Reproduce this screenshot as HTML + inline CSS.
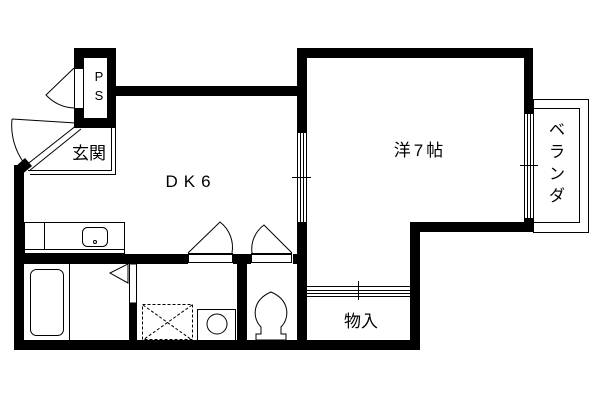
<!DOCTYPE html>
<html><head><meta charset="utf-8"><style>
html,body{margin:0;padding:0;background:#fff;}
svg{display:block;}
text{font-family:"Liberation Sans","Noto Sans CJK JP",sans-serif;fill:#000;}
</style></head><body>
<svg width="600" height="400" viewBox="0 0 600 400" xmlns="http://www.w3.org/2000/svg">
<rect width="600" height="400" fill="#fff"/>
<g fill="none" stroke="#000" stroke-width="1">
<!-- veranda -->
<rect x="533.5" y="99.5" width="55" height="133"/>
<rect x="533.5" y="108.5" width="46" height="114"/>
<!-- genkan lines -->
<polyline points="111.5,126 111.5,170.5 28,170.5"/>
<polyline points="115.5,126 115.5,174.5 30,174.5"/>
<!-- entry door -->
<line x1="25" y1="166" x2="77" y2="125"/>
<line x1="29" y1="171" x2="81" y2="129"/>
<line x1="12" y1="119" x2="76" y2="123"/>
<path d="M12,119 A64,64 0 0 0 24,163"/>
<!-- PS door -->
<path d="M74,68 L46,95 A40,40 0 0 0 74,108"/>
<!-- kitchen counter -->
<rect x="24.5" y="222.5" width="100" height="31"/>
<line x1="24" y1="249.5" x2="124" y2="249.5"/>
<line x1="44.5" y1="222" x2="44.5" y2="249"/>
<rect x="82.5" y="227.5" width="25" height="19" rx="5"/>
<circle cx="95" cy="242" r="1.5"/>
<!-- bathtub -->
<rect x="30.5" y="269.5" width="33" height="66" rx="6"/>
<line x1="69.5" y1="264" x2="69.5" y2="340"/>
<!-- wash door -->
<polyline points="128,264 128,283 110,273 128,264"/>
<rect x="129.5" y="263.5" width="7" height="40"/>
<!-- washer pan -->
<rect x="142.5" y="304.5" width="50" height="35" stroke-dasharray="3,2"/>
<line x1="143" y1="305" x2="192" y2="340" stroke-dasharray="3,2"/>
<line x1="192" y1="305" x2="143" y2="340" stroke-dasharray="3,2"/>
<rect x="197.5" y="309.5" width="38" height="31"/>
<circle cx="217" cy="324" r="10"/>
<!-- toilet -->
<path d="M261,327 C252,318 252,300 271,292 C290,300 290,318 281,327 L281,334 L286,334 L286,340 L256,340 L256,334 L261,334 Z"/>
<!-- doors to bath/toilet -->
<rect x="188.5" y="253.5" width="44" height="9"/>
<path d="M188,253 L220,222 A32,32 0 0 1 232,253"/>
<rect x="251.5" y="253.5" width="40" height="9"/>
<path d="M292,253 L264,225 A30,30 0 0 0 252,253"/>
<!-- storage doors -->
<line x1="307" y1="286.5" x2="410" y2="286.5"/>
<line x1="307" y1="290.5" x2="410" y2="290.5"/>
<line x1="307" y1="293.5" x2="410" y2="293.5"/>
<line x1="307" y1="296.5" x2="410" y2="296.5"/>
<line x1="358.5" y1="281" x2="358.5" y2="300"/>
</g>
<g fill="#000">
<!-- PS box -->
<rect x="74" y="48" width="42" height="80"/>
<!-- DK top wall -->
<rect x="116" y="86" width="184" height="10"/>
<!-- western room -->
<rect x="297" y="48" width="236" height="10"/>
<rect x="524" y="48" width="9" height="184"/>
<rect x="410" y="222" width="123" height="10"/>
<rect x="410" y="222" width="10" height="128"/>
<rect x="297" y="48" width="10" height="302"/>
<!-- left wall -->
<rect x="14" y="165" width="10" height="185"/>
<polygon points="14,168 25,158 32,166 20,176"/>
<!-- bottom -->
<rect x="14" y="340" width="406" height="10"/>
<!-- mid wall -->
<rect x="14" y="254" width="283" height="10"/>
<rect x="237" y="254" width="10" height="96"/>
<rect x="129" y="303" width="8" height="47"/>
</g>
<g fill="#fff" stroke="#000" stroke-width="1">
<rect x="83.5" y="57.5" width="24" height="61"/>
<rect x="74.5" y="68.5" width="9" height="40"/>
<rect x="297.5" y="132.5" width="9" height="90"/>
<rect x="524.5" y="113.5" width="9" height="105"/>
<rect x="188" y="254" width="45" height="10" stroke="none"/>
<rect x="251" y="254" width="42" height="10" stroke="none"/>
<rect x="129.5" y="264" width="7" height="39"/>
</g>
<g fill="none" stroke="#000" stroke-width="1">
<line x1="300.5" y1="133" x2="300.5" y2="222"/><line x1="303.5" y1="133" x2="303.5" y2="222"/>
<line x1="292" y1="177.5" x2="311" y2="177.5"/>
<line x1="527.5" y1="114" x2="527.5" y2="218"/><line x1="530.5" y1="114" x2="530.5" y2="218"/>
<line x1="520" y1="165.5" x2="538" y2="165.5"/>
<rect x="188.5" y="254.5" width="44" height="8"/>
<rect x="251.5" y="254.5" width="40" height="8"/>
</g>
<text x="99" y="81" font-size="13" text-anchor="middle">P</text>
<text x="99" y="100" font-size="13" text-anchor="middle">S</text>
<text x="89" y="159" font-size="17" text-anchor="middle">玄関</text>
<text x="191" y="187" font-size="17" text-anchor="middle" letter-spacing="6">DK6</text>
<text x="420" y="156" font-size="17" text-anchor="middle" letter-spacing="3">洋7帖</text>
<text x="361" y="327" font-size="17" text-anchor="middle">物入</text>
<text x="557" y="135" font-size="16" text-anchor="middle">ベ</text>
<text x="557" y="157" font-size="16" text-anchor="middle">ラ</text>
<text x="557" y="179" font-size="16" text-anchor="middle">ン</text>
<text x="557" y="201" font-size="16" text-anchor="middle">ダ</text>
</svg>
</body></html>
